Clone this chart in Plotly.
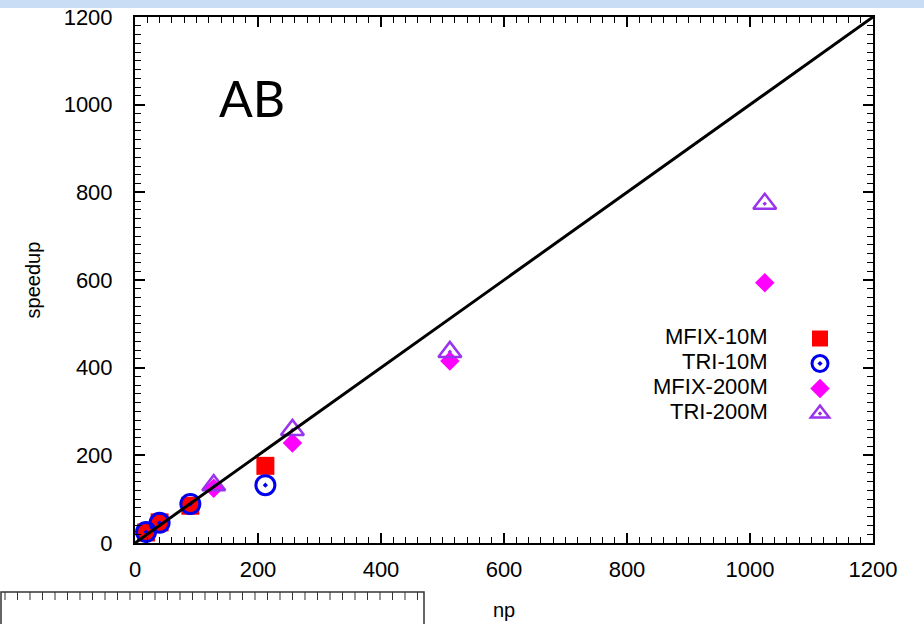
import plotly.graph_objects as go

# Data
np_10m = [18, 40, 90, 212]
mfix_10m = [24, 47, 85, 176]
tri_10m = [25, 46, 89, 132]

np_200m = [128, 256, 512, 1024]
mfix_200m = [125, 228, 415, 594]
tri_200m = [132, 258, 436, 774]

ideal_x = [0, 1200]
ideal_y = [0, 1200]

series_names = ["MFIX-10M", "TRI-10M", "MFIX-200M", "TRI-200M"]
tick_vals = [0, 200, 400, 600, 800, 1000, 1200]

FONT = "Liberation Sans, Arial, sans-serif"
W, H = 924, 624
ML, MR, MT, MB = 135, 51, 17, 81
PW, PH = W - ML - MR, H - MT - MB


def px_x(p):
    return (p - ML) / PW


def px_y(p):
    return (H - MB - p) / PH


fig = go.Figure()
fig.add_trace(go.Scatter(x=np_10m, y=mfix_10m, mode="markers", name=series_names[0],
                         legendgroup="g0",
                         marker=dict(symbol="square", size=18, color="#ff0000",
                                     line=dict(width=0))))
fig.add_trace(go.Scatter(x=np_10m, y=tri_10m, mode="markers", name=series_names[1],
                         legendgroup="g1",
                         marker=dict(symbol="circle-open-dot", size=19, color="#0000ee",
                                     line=dict(width=3, color="#0000ee"))))
fig.add_trace(go.Scatter(x=np_200m, y=mfix_200m, mode="markers", name=series_names[2],
                         legendgroup="g2",
                         marker=dict(symbol="diamond", size=15, color="#ff00ff",
                                     line=dict(width=0))))
fig.add_trace(go.Scatter(x=np_200m, y=tri_200m, mode="markers", name=series_names[3],
                         legendgroup="g3",
                         marker=dict(symbol="triangle-up-open-dot", size=20, color="#9933ee",
                                     line=dict(width=2.5, color="#9933ee"))))
fig.add_trace(go.Scatter(x=ideal_x, y=ideal_y, mode="lines", showlegend=False,
                         line=dict(color="black", width=3)))

axis_common = dict(
    range=[0, 1200], tickvals=tick_vals, ticks="inside", ticklen=10, tickwidth=1.5,
    tickcolor="black", showline=True, linecolor="black", linewidth=2, mirror="ticks",
    showgrid=False, zeroline=False,
    tickfont=dict(family=FONT, size=22, color="black"),
    minor=dict(dtick=20, ticks="inside", ticklen=6, tickwidth=1, tickcolor="black"),
)

# legend label rows (pixel rows in the page), text placed right-aligned left of the symbols
row0_px = 336
row_step = 25
label_right_px = 770
annotations = [dict(text="AB", xref="paper", yref="paper",
                    x=px_x(252), y=px_y(98), xanchor="center", yanchor="middle",
                    showarrow=False,
                    font=dict(family="Lato, Open Sans, sans-serif", size=50, color="black"))]
for i, nm in enumerate(series_names):
    ypx = row0_px + i * row_step
    annotations.append(dict(text=nm, xref="paper", yref="paper",
                            x=px_x(label_right_px), y=px_y(ypx),
                            xanchor="right", yanchor="middle", showarrow=False,
                            font=dict(family=FONT, size=22, color="black")))

# cropped neighbour frame at bottom-left, with its small ticks
tick_path = ""
tx = 5.0
while tx < 420:
    tick_path += f"M{px_x(tx):.5f},{px_y(592):.5f} L{px_x(tx):.5f},{px_y(600):.5f} "
    tx += 12.5

shapes = [
    dict(type="rect", xref="paper", yref="paper", x0=px_x(0), x1=px_x(W),
         y0=px_y(8), y1=px_y(0),
         fillcolor="#c9def4", line=dict(width=0), layer="above"),
    dict(type="rect", xref="paper", yref="paper", x0=px_x(1), x1=px_x(424),
         y0=px_y(592), y1=px_y(640),
         fillcolor="rgba(0,0,0,0)", line=dict(width=1.5, color="#333333")),
    dict(type="path", xref="paper", yref="paper", path=tick_path,
         line=dict(width=1, color="#333333")),
]

fig.update_layout(
    width=W, height=H,
    margin=dict(l=ML, r=MR, t=MT, b=MB, autoexpand=False),
    paper_bgcolor="white", plot_bgcolor="white",
    xaxis=dict(**axis_common, ticklabelstandoff=6,
               title=dict(text="np", font=dict(family=FONT, size=20, color="black"), standoff=22)),
    yaxis=dict(**axis_common, ticklabelstandoff=16,
               title=dict(text="speedup", font=dict(family=FONT, size=20, color="black"),
                          standoff=18)),
    legend=dict(x=px_x(800), y=px_y(324), xanchor="left", yanchor="top",
                bgcolor="rgba(0,0,0,0)", traceorder="grouped",
                font=dict(family=FONT, size=8, color="rgba(0,0,0,0)"), tracegroupgap=6,
                itemsizing="trace"),
    annotations=annotations,
    shapes=shapes,
)

fig.write_html("out.html")
